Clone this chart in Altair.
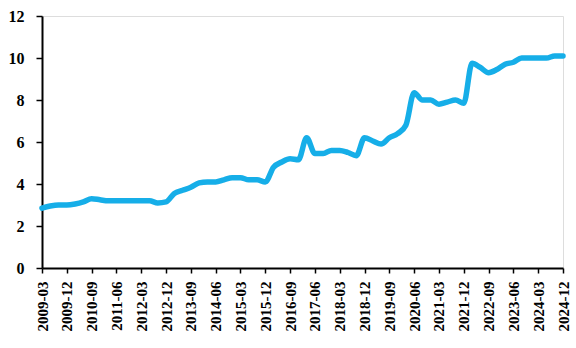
import altair as alt
import pandas as pd

quarters = [f"{y}-{m:02d}" for y in range(2009, 2025) for m in (3, 6, 9, 12)]
values = [2.85, 2.95, 3.0, 3.0, 3.05, 3.15, 3.3, 3.25, 3.2, 3.2,
          3.2, 3.2, 3.2, 3.2, 3.1, 3.15, 3.55, 3.7, 3.85, 4.05,
          4.1, 4.1, 4.2, 4.3, 4.3, 4.2, 4.2, 4.1, 4.8, 5.05,
          5.2, 5.15, 6.2, 5.45, 5.45, 5.6, 5.6, 5.5, 5.35, 6.2,
          6.05, 5.9, 6.2, 6.4, 6.8, 8.35, 8.0, 8.0, 7.8, 7.9,
          8.0, 7.85, 9.75, 9.55, 9.3, 9.45, 9.7, 9.8, 10.0, 10.0,
          10.0, 10.0, 10.1, 10.1]
tick_labels = quarters[::3]

df = pd.DataFrame({"quarter": quarters, "value": values})

font = "Liberation Serif"

chart = alt.Chart(df).mark_line(
    color="#16AEE8", strokeWidth=5.5, interpolate="monotone", strokeCap="round", strokeJoin="round"
).encode(
    x=alt.X("quarter:N", sort=quarters,
            scale=alt.Scale(type="point", padding=0),
            axis=alt.Axis(values=tick_labels, labelAngle=-90, title=None,
                          labelFont=font, labelFontWeight="bold", labelFontSize=15,
                          labelColor="black", domainColor="black", tickColor="black",
                          domainWidth=2, tickWidth=1.5, tickSize=5, labelPadding=8, grid=False)),
    y=alt.Y("value:Q", scale=alt.Scale(domain=[0, 12]),
            axis=alt.Axis(values=[0, 2, 4, 6, 8, 10, 12], title=None,
                          labelFont=font, labelFontWeight="bold", labelFontSize=16,
                          labelColor="black", domainColor="black", tickColor="black",
                          domainWidth=2, tickWidth=1.5, tickSize=6, labelPadding=12, grid=False)),
).properties(
    width=521, height=252,
    autosize=alt.AutoSizeParams(type="none"),
    padding={"left": 42, "top": 16, "right": 13, "bottom": 80},
).configure_view(stroke=None).configure(background="white")

chart.save("out.html", embed_options={"renderer": "svg", "actions": False})
